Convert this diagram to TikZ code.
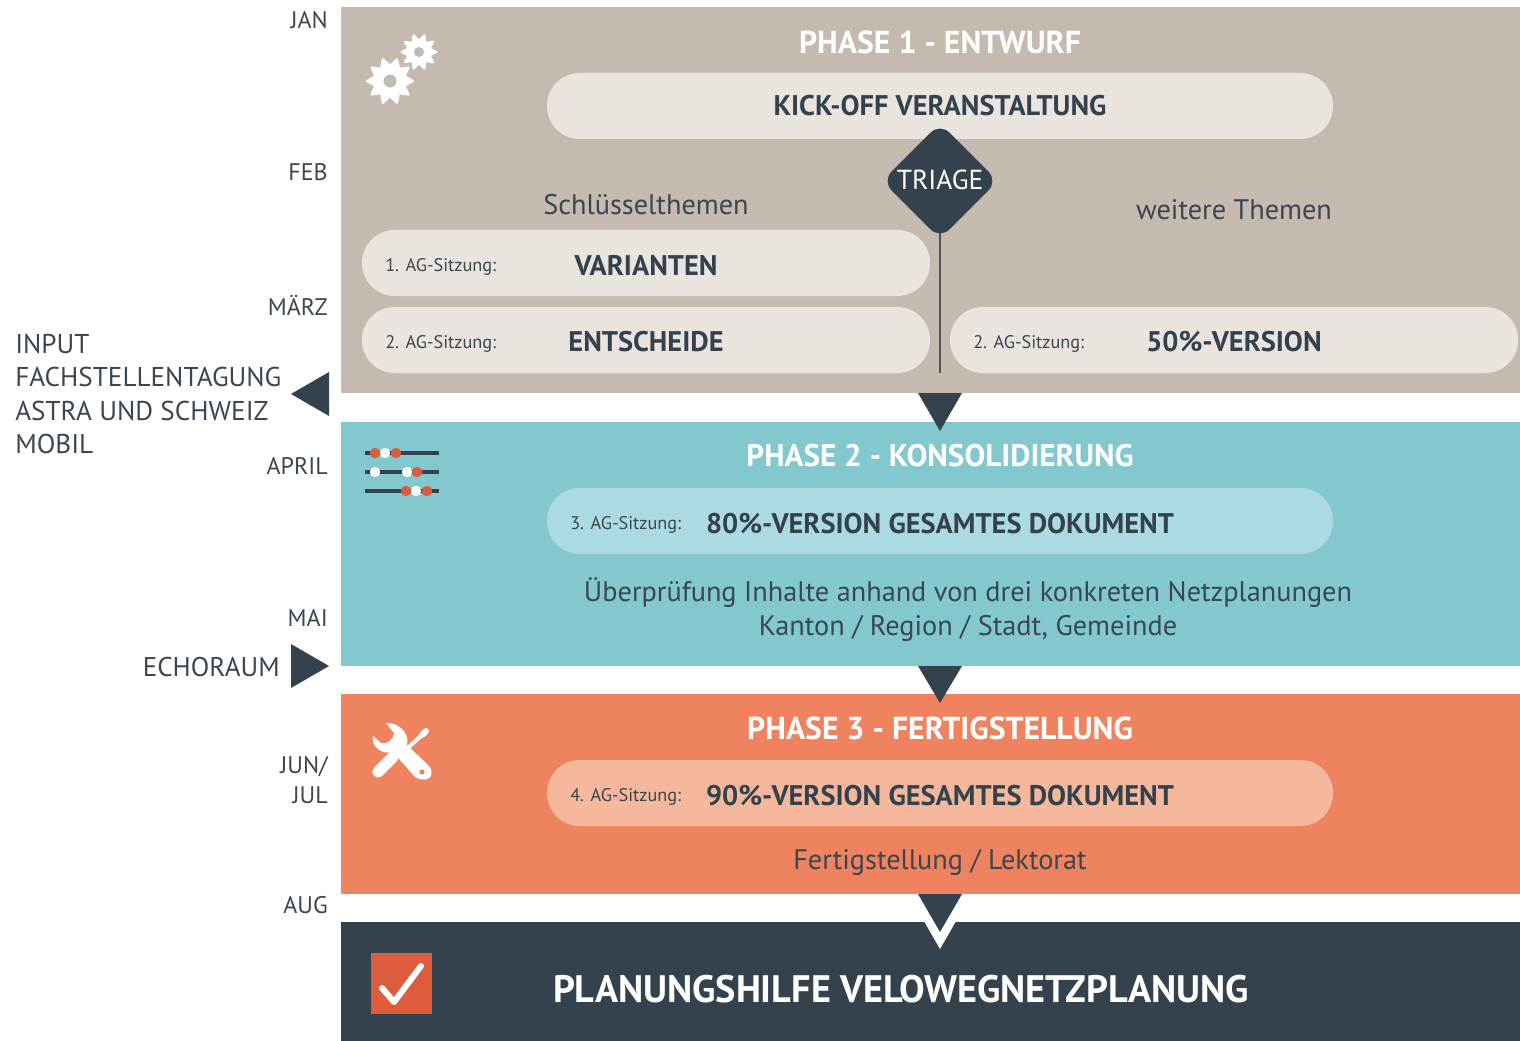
\documentclass[tikz,border=0pt]{standalone}
\usepackage{fontspec}
\setmainfont{PT Sans}
\usetikzlibrary{shapes.geometric}
\definecolor{tan}{HTML}{C4BAB0}
\definecolor{tanpill}{HTML}{E9E4DE}
\definecolor{teal}{HTML}{83C7CF}
\definecolor{tealpill}{HTML}{ACDAE3}
\definecolor{orng}{HTML}{F0835F}
\definecolor{orngpill}{HTML}{F5B89D}
\definecolor{dark}{HTML}{34424D}
\definecolor{redb}{HTML}{DD5C3E}
\definecolor{txt}{HTML}{3A4750}
\tikzset{
 every node/.style={inner sep=0},
 pill/.style={rounded corners=24.5pt},
 phasetitle/.style={text=white,font=\bfseries\fontsize{23.8}{28}\selectfont},
 pilltitle/.style={text=dark,font=\bfseries\fontsize{21.3}{25}\selectfont},
 small/.style={text=txt,font=\fontsize{13.7}{16}\selectfont},
 body/.style={text=txt,font=\fontsize{21.2}{25.5}\selectfont,align=center},
 month/.style={text=txt,font=\fontsize{18}{22.5}\selectfont,anchor=east,align=right},
 side/.style={text=txt,font=\fontsize{20.4}{25.2}\selectfont,align=left,anchor=west},
 tri/.style={fill=dark},
}
\begin{document}
\begin{tikzpicture}[x=0.75pt,y=-0.75pt]
\useasboundingbox (0,0) rectangle (1520,1041);
% bands
\fill[tan] (341,7) rectangle (1520,393);
\fill[teal] (341,422) rectangle (1520,666);
\fill[orng] (341,694) rectangle (1520,894);
\fill[dark] (341,922) rectangle (1520,1041);
% pills
\fill[tanpill,pill] (547,73) rectangle (1333,139);
\fill[tanpill,pill] (362,230) rectangle (930,296);
\fill[tanpill,pill] (362,307) rectangle (930,373);
\fill[tanpill,pill] (950,307) rectangle (1518,373);
\fill[tealpill,pill] (547,488) rectangle (1333,554);
\fill[orngpill,pill] (547,760) rectangle (1333,826);
% triage
\coordinate (triageend) at (940,373);
\node[diamond,fill=dark,rounded corners=10pt,minimum width=87pt,minimum height=87pt] (triage) at (940,181) {};
\draw[draw=dark!70!gray,line width=1.5pt,shorten <=-5pt] (triage.south) -- (triageend);
\node[text=white,font=\fontsize{20.6}{24}\selectfont] (triagetext) at (940,180) {TRIAGE};
% titles
\node[phasetitle] (p1) at (940,42) {PHASE 1 - ENTWURF};
\node[pilltitle] (kick) at (940,106) {KICK-OFF VERANSTALTUNG};
\node[body] (schl) at (646,205) {Schlüsselthemen};
\node[body] (weit) at (1234,210) {weitere Themen};
\node[small,anchor=west] (s1) at (385,267) {1. AG-Sitzung:};
\node[pilltitle] (var) at (646,265) {VARIANTEN};
\node[small,anchor=west] (s2) at (385,344) {2. AG-Sitzung:};
\node[pilltitle] (ent) at (646,342) {ENTSCHEIDE};
\node[small,anchor=west] (s3) at (973,344) {2. AG-Sitzung:};
\node[pilltitle] (v50) at (1234,342) {50\%-VERSION};
\node[phasetitle,font=\bfseries\fontsize{23.4}{28}\selectfont] (p2) at (940,456) {PHASE 2 - KONSOLIDIERUNG};
\node[small,anchor=west] (s4) at (570,525) {3. AG-Sitzung:};
\node[pilltitle] (v80) at (940,524) {80\%-VERSION GESAMTES DOKUMENT};
\node[body] (ueb) at (968,610) {Überprüfung Inhalte anhand von drei konkreten Netzplanungen\\Kanton / Region / Stadt, Gemeinde};
\node[phasetitle] (p3) at (940,728) {PHASE 3 - FERTIGSTELLUNG};
\node[small,anchor=west] (s5) at (570,797) {4. AG-Sitzung:};
\node[pilltitle] (v90) at (940,796) {90\%-VERSION GESAMTES DOKUMENT};
\node[body] (fert) at (940,862) {Fertigstellung / Lektorat};
\node[text=white,font=\bfseries\fontsize{28.7}{32}\selectfont] (final) at (901,989) {PLANUNGSHILFE VELOWEGNETZPLANUNG};
% months
\node[month] (jan) at (328,20) {JAN};
\node[month] (feb) at (328,172) {FEB};
\node[month] (mar) at (328,305) {MÄRZ};
\node[month] (apr) at (328,466) {APRIL};
\node[month] (mai) at (328,618) {MAI};
\node[month] (jun) at (328,780) {JUN/\\JUL};
\node[month] (aug) at (328,905) {AUG};
\node[side] (input) at (15,394) {INPUT\\FACHSTELLENTAGUNG\\ASTRA UND SCHWEIZ\\MOBIL};
\node[text=txt,font=\fontsize{20.3}{25}\selectfont,anchor=east] (echo) at (280,667) {ECHORAUM};
% side arrows
\fill[tri] (329,372) -- (329,416) -- (291,394) -- cycle;
\fill[tri] (291,644) -- (291,688) -- (329,666) -- cycle;
% phase arrows
\fill[tri] (918,393) -- (962,393) -- (940,431) -- cycle;
\fill[tri] (918,666) -- (962,666) -- (940,703) -- cycle;
\fill[white] (924.5,922) -- (955.5,922) -- (940,949) -- cycle;
\fill[tri] (918,894) -- (962,894) -- (940,932) -- cycle;
% gears
\foreach \cx/\cy/\ro/\rb/\rh in {390/81/23/16.5/6.5,419/52/17.5/12/5}{
 \fill[white] (\cx,\cy) circle[radius=\rb];
 \foreach \a in {0,36,...,324}{
  \fill[white,line join=round,draw=white,line width=1.5pt] ({\cx+\rb*cos(\a-14)},{\cy+\rb*sin(\a-14)}) -- ({\cx+\ro*cos(\a)},{\cy+\ro*sin(\a)}) -- ({\cx+\rb*cos(\a+14)},{\cy+\rb*sin(\a+14)}) -- cycle;
 }
 \fill[tan] (\cx,\cy) circle[radius=\rh];
}
% sliders
\foreach \yy in {453,472,491}{\draw[dark,line width=2.4pt] (365,\yy) -- (439,\yy);}
\foreach \xx/\yy/\cc in {375/453/redb,385/453/white,396/453/redb,375/472/white,407/472/white,417/472/redb,406/491/redb,416/491/white,427/491/redb}{
 \fill[\cc] (\xx,\yy) circle[radius=5.2];
}
% tools
\draw[white,line width=8.5pt,line cap=round] (378,772) -- (393,757);
\draw[white,line width=3pt,line cap=round] (410,746) -- (423,734);
\draw[white,line width=4.5pt,line cap=round] (422,735) -- (426,731);
\fill[white] (386,723) .. controls (398,722) and (410,733) .. (407,745) -- (428,765) .. controls (436,773) and (430,785) .. (415,777) -- (393,752) .. controls (382,755) and (371,747) .. (373,736) -- (381,743) .. controls (387,745) and (394,739) .. (394,733) -- cycle;
\fill[orng] (422,772) circle[radius=2.6];
% check
\fill[redb] (371,953) rectangle (432,1014);
\draw[white,line width=4.5pt,line cap=round,line join=round] (382,988) -- (394,1002) -- (421,966);
\end{tikzpicture}
\end{document}
